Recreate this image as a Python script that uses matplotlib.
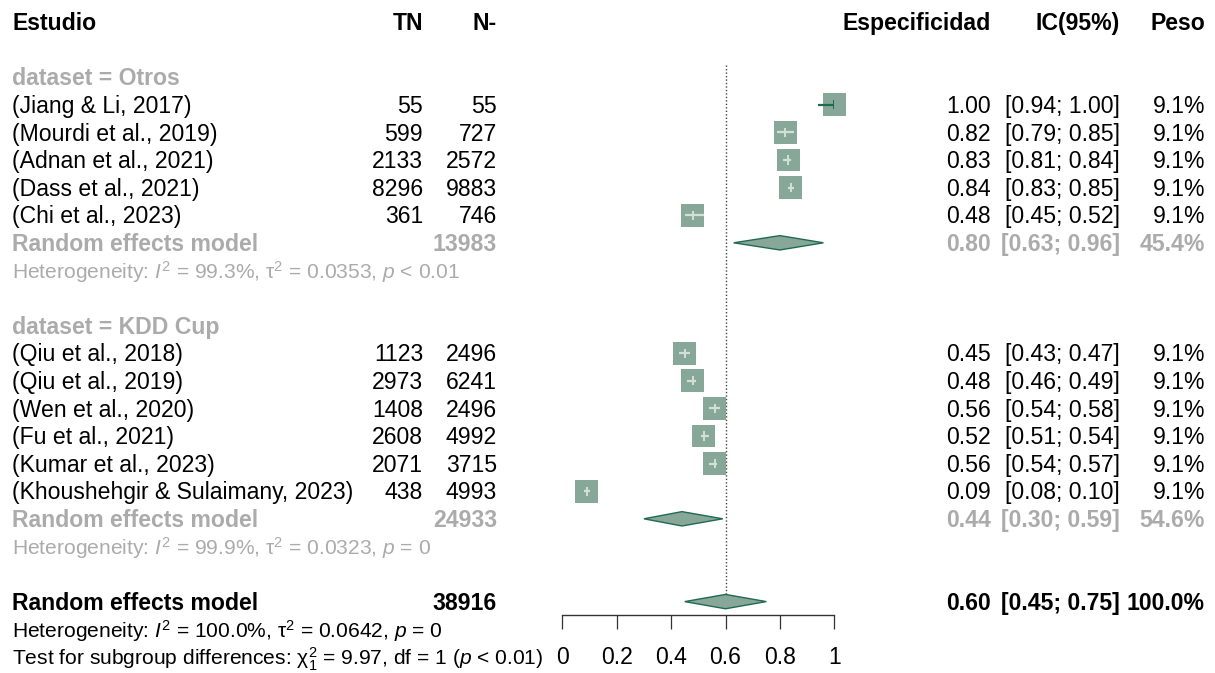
import numpy as np
import matplotlib.pyplot as plt
from matplotlib.patches import Rectangle, Polygon
from matplotlib.transforms import blended_transform_factory

plt.rcParams["font.family"] = ["Liberation Sans", "DejaVu Sans"]
plt.rcParams["mathtext.fontset"] = "custom"
plt.rcParams["mathtext.rm"] = "Liberation Sans"
plt.rcParams["mathtext.it"] = "Liberation Sans:italic"
plt.rcParams["mathtext.bf"] = "Liberation Sans:bold"

# ---------------------------------------------------------------
# data
# ---------------------------------------------------------------
otros_study = ["(Jiang & Li, 2017)", "(Mourdi et al., 2019)", "(Adnan et al., 2021)",
               "(Dass et al., 2021)", "(Chi et al., 2023)"]
otros_tn = [55, 599, 2133, 8296, 361]
otros_n = [55, 727, 2572, 9883, 746]
otros_est = [1.00, 0.82, 0.83, 0.84, 0.48]
otros_lo = [0.94, 0.79, 0.81, 0.83, 0.45]
otros_hi = [1.00, 0.85, 0.84, 0.85, 0.52]
otros_w = [9.1, 9.1, 9.1, 9.1, 9.1]

kdd_study = ["(Qiu et al., 2018)", "(Qiu et al., 2019)", "(Wen et al., 2020)",
             "(Fu et al., 2021)", "(Kumar et al., 2023)", "(Khoushehgir & Sulaimany, 2023)"]
kdd_tn = [1123, 2973, 1408, 2608, 2071, 438]
kdd_n = [2496, 6241, 2496, 4992, 3715, 4993]
kdd_est = [0.45, 0.48, 0.56, 0.52, 0.56, 0.09]
kdd_lo = [0.43, 0.46, 0.54, 0.51, 0.54, 0.08]
kdd_hi = [0.47, 0.49, 0.58, 0.54, 0.57, 0.10]
kdd_w = [9.1, 9.1, 9.1, 9.1, 9.1, 9.1]

group_labels = ["dataset = Otros", "dataset = KDD Cup"]
group_n = [13983, 24933]
group_est = [0.80, 0.44]
group_lo = [0.63, 0.30]
group_hi = [0.96, 0.59]
group_w = [45.4, 54.6]
group_het = [r"Heterogeneity: $I^2$ = 99.3%, $\mathrm{\tau}^2$ = 0.0353, $p$ < 0.01",
             r"Heterogeneity: $I^2$ = 99.9%, $\mathrm{\tau}^2$ = 0.0323, $p$ = 0"]

overall_n = 38916
overall_est = 0.60
overall_lo = 0.45
overall_hi = 0.75
overall_w = 100.0
overall_het = r"Heterogeneity: $I^2$ = 100.0%, $\mathrm{\tau}^2$ = 0.0642, $p$ = 0"
subgroup_test = r"Test for subgroup differences: $\mathrm{\chi}^2_1$ = 9.97, df = 1 ($p$ < 0.01)"

x_ticks = [0, 0.2, 0.4, 0.6, 0.8, 1]

# ---------------------------------------------------------------
# styling
# ---------------------------------------------------------------
W, H = 1215, 673
ROW_PX = 27.6
TOP_PX = 22.0
FS = 16.6
FS_SMALL = 15.1
GREY = "#ABABAB"
BOX = "#87A899"
DARK = "#1F6A52"
INSIDE = "#D2E0D8"

# column right edges (pixels)
X_LABEL, X_TN, X_N, X_EST, X_CI, X_W = 12, 423, 497, 991, 1120, 1205

fig = plt.figure(figsize=(W / 100, H / 100), dpi=100)
ax = fig.add_axes([562.3 / W, 0, 272 / W, 1])
ax.set_xlim(0, 1)
ax.set_ylim((H - TOP_PX) / ROW_PX, -TOP_PX / ROW_PX)
for s in ("top", "left", "right"):
    ax.spines[s].set_visible(False)
ax.set_yticks([])

tr = blended_transform_factory(fig.transFigure, ax.transData)
BASE = 0.3   # baseline offset within a row


def put(xpx, row, s, ha="right", color="black", weight="normal", size=FS):
    ax.text(xpx / W, row + BASE, s, transform=tr, ha=ha, va="baseline",
            color=color, fontweight=weight, fontsize=size)


def study_marker(row, est, lo, hi, w):
    side = 7.62 * np.sqrt(w)
    hx = side / 2 / 272
    hy = side / 2 / ROW_PX
    ax.add_patch(Rectangle((est - hx, row - hy), 2 * hx, 2 * hy,
                           facecolor=BOX, edgecolor="none", zorder=2, clip_on=False))
    inside = lo >= est - hx and hi <= est + hx
    c = INSIDE if inside else DARK
    ax.hlines(row, lo, hi, color=c, lw=1.6, zorder=3)
    ax.vlines(est, row - 0.17, row + 0.17, color=c, lw=1.4, zorder=3)


def diamond(row, est, lo, hi):
    h = 0.26
    ax.add_patch(Polygon([(lo, row), (est, row - h), (hi, row), (est, row + h)],
                         closed=True, facecolor=BOX, edgecolor=DARK, lw=1.0,
                         zorder=3, clip_on=False))


# header
for xpx, s, ha in [(X_LABEL, "Estudio", "left"), (X_TN, "TN", "right"), (X_N, "N-", "right"),
                   (X_EST, "Especificidad", "right"), (X_CI, "IC(95%)", "right"),
                   (X_W, "Peso", "right")]:
    put(xpx, 0, s, ha=ha, weight="bold")

groups = [
    (otros_study, otros_tn, otros_n, otros_est, otros_lo, otros_hi, otros_w),
    (kdd_study, kdd_tn, kdd_n, kdd_est, kdd_lo, kdd_hi, kdd_w),
]

row = 2
for g, (study, tn, n, est, lo, hi, w) in enumerate(groups):
    put(X_LABEL, row, group_labels[g], ha="left", color=GREY, weight="bold")
    row += 1
    for i in range(len(study)):
        put(X_LABEL, row, study[i], ha="left")
        put(X_TN, row, f"{tn[i]}")
        put(X_N, row, f"{n[i]}")
        put(X_EST, row, f"{est[i]:.2f}")
        put(X_CI, row, f"[{lo[i]:.2f}; {hi[i]:.2f}]")
        put(X_W, row, f"{w[i]:.1f}%")
        study_marker(row, est[i], lo[i], hi[i], w[i])
        row += 1
    put(X_LABEL, row, "Random effects model", ha="left", color=GREY, weight="bold")
    put(X_N, row, f"{group_n[g]}", color=GREY, weight="bold")
    put(X_EST, row, f"{group_est[g]:.2f}", color=GREY, weight="bold")
    put(X_CI, row, f"[{group_lo[g]:.2f}; {group_hi[g]:.2f}]", color=GREY, weight="bold")
    put(X_W, row, f"{group_w[g]:.1f}%", color=GREY, weight="bold")
    diamond(row, group_est[g], group_lo[g], group_hi[g])
    row += 1
    put(X_LABEL, row, group_het[g], ha="left", color=GREY, size=FS_SMALL)
    row += 2

# overall
put(X_LABEL, row, "Random effects model", ha="left", weight="bold")
put(X_N, row, f"{overall_n}", weight="bold")
put(X_EST, row, f"{overall_est:.2f}", weight="bold")
put(X_CI, row, f"[{overall_lo:.2f}; {overall_hi:.2f}]", weight="bold")
put(X_W, row, f"{overall_w:.1f}%", weight="bold")
diamond(row, overall_est, overall_lo, overall_hi)
ax.vlines(overall_est, 1.55, row, color="#444444", lw=1.0, linestyles=(0, (1, 1.5)), zorder=1)
put(X_LABEL, row + 1, overall_het, ha="left", size=FS_SMALL)
put(X_LABEL, row + 2, subgroup_test, ha="left", size=FS_SMALL)

# x axis
ax.spines["bottom"].set_position(("data", row + 0.5))
ax.spines["bottom"].set_color("#333333")
ax.spines["bottom"].set_linewidth(1.0)
ax.set_xticks(x_ticks)
ax.set_xticklabels([f"{v:g}" for v in x_ticks])
ax.tick_params(axis="x", direction="out", length=10, width=0.9, color="#333333",
               labelsize=FS, pad=12)

fig.savefig("out.png", dpi=100)
